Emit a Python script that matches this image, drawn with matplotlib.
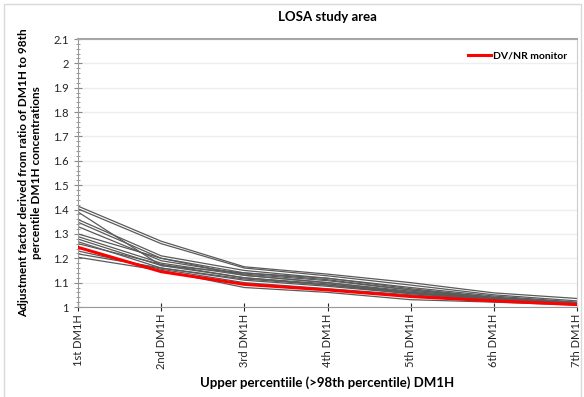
import matplotlib
matplotlib.use('Agg')
import matplotlib.pyplot as plt
import matplotlib.ticker as mticker
from matplotlib.patches import Rectangle

plt.rcParams['font.family'] = ['Lato', 'DejaVu Sans']

# categories
labels = ['1st DM1H', '2nd DM1H', '3rd DM1H', '4th DM1H',
          '5th DM1H', '6th DM1H', '7th DM1H']

# individual monitors (grey)
monitors = [
    [1.414, 1.270, 1.165, 1.135, 1.100, 1.058, 1.035],
    [1.403, 1.260, 1.160, 1.128, 1.090, 1.050, 1.025],
    [1.390, 1.170, 1.140, 1.118, 1.080, 1.045, 1.020],
    [1.359, 1.210, 1.150, 1.118, 1.075, 1.040, 1.018],
    [1.348, 1.200, 1.140, 1.112, 1.070, 1.040, 1.015],
    [1.330, 1.190, 1.135, 1.108, 1.070, 1.035, 1.015],
    [1.300, 1.200, 1.130, 1.100, 1.065, 1.035, 1.012],
    [1.289, 1.180, 1.130, 1.100, 1.060, 1.030, 1.012],
    [1.279, 1.170, 1.120, 1.090, 1.060, 1.030, 1.010],
    [1.268, 1.160, 1.115, 1.090, 1.055, 1.030, 1.010],
    [1.260, 1.175, 1.120, 1.095, 1.060, 1.035, 1.012],
    [1.218, 1.160, 1.110, 1.085, 1.055, 1.030, 1.010],
    [1.204, 1.150, 1.080, 1.060, 1.030, 1.020, 1.008],
    [1.230, 1.155, 1.100, 1.075, 1.050, 1.028, 1.010],
]

# DV/NR monitor (red)
dvnr = [1.245, 1.145, 1.093, 1.070, 1.043, 1.025, 1.010]

fig = plt.figure(figsize=(5.84, 3.97), dpi=100)
ax = fig.add_axes([78/584, 1-307/397, (577-78)/584, (307-39)/397])

# outer chart frame
fig.patches.append(Rectangle((4/584, -0.01), 577/584, 1-4/397+0.01,
                             transform=fig.transFigure, fill=False,
                             edgecolor='#d9d9d9', linewidth=1.0))

x = list(range(len(labels)))
for m in monitors:
    ax.plot(x, m, color='#5a5a5a', linewidth=0.9, zorder=2)
ax.plot(x, dvnr, color='#ff0000', linewidth=2.2, zorder=3,
        label='DV/NR monitor')

ax.set_xlim(0, 6)
ax.set_ylim(1, 2.1)
ax.set_xticks(x)
ax.set_xticklabels(labels, rotation=90, fontsize=8)
ax.yaxis.set_major_locator(mticker.MultipleLocator(0.1))
ax.yaxis.set_minor_locator(mticker.MultipleLocator(0.02))
ax.yaxis.set_major_formatter(mticker.FuncFormatter(lambda v, p: '%g' % round(v, 2)))
ax.tick_params(axis='y', labelsize=8, colors='#222222')
ax.tick_params(axis='both', which='major', direction='inout', length=6,
               color='#888888', width=0.8)
ax.tick_params(axis='y', which='minor', direction='inout', length=3,
               color='#888888', width=0.6)
ax.tick_params(axis='x', colors='#222222', pad=2)

ax.grid(axis='y', color='#eeeeee', linewidth=1.0, zorder=0)
ax.set_axisbelow(True)
for s in ['left', 'bottom']:
    ax.spines[s].set_color('#999999')
ax.spines['top'].set_color('#a6a6a6')
ax.spines['top'].set_linewidth(1.5)
ax.spines['right'].set_color('#cccccc')

fig.text(327/584, 1-17/397, 'LOSA study area', ha='center', va='center',
         fontsize=9.5, fontweight='bold')
ax.set_xlabel('Upper percentiile (>98th percentile) DM1H', fontsize=9.5,
              fontweight='bold', labelpad=5)
ax.set_ylabel('Adjustment factor derived from ratio of DM1H to 98th\n'
              'percentile DM1H concentrations', fontsize=8.5,
              fontweight='bold', labelpad=8)

leg = ax.legend(loc='upper right', frameon=False, fontsize=7.5,
                handlelength=2.2, handletextpad=0.2,
                bbox_to_anchor=(1.0, 0.99))
for t in leg.get_texts():
    t.set_fontweight('bold')

fig.savefig('out.png', dpi=100)
